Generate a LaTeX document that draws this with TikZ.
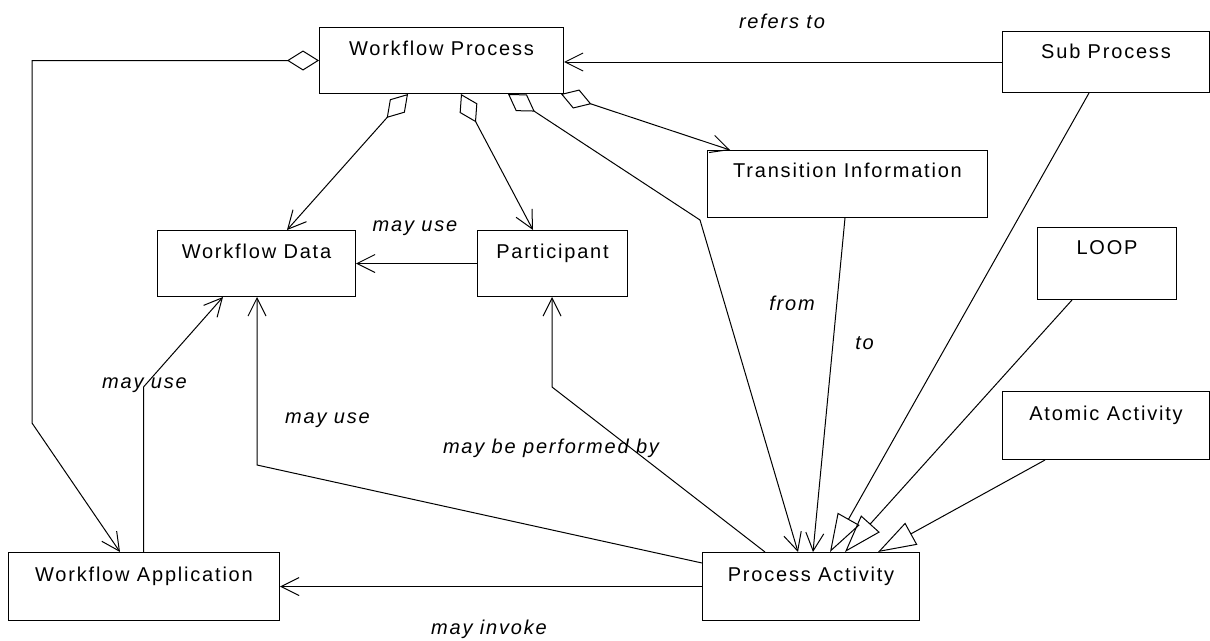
\documentclass[tikz,border=0pt]{standalone}
\usepackage{fontspec}
\setmainfont{Liberation Sans}[LetterSpace=9]
\usetikzlibrary{arrows.meta,calc}

\begin{document}
\begin{tikzpicture}[x=1pt,y=-1pt,
  every node/.style={font=\fontsize{20pt}{24pt}\selectfont},
  box/.style={draw, line width=1pt, inner xsep=0pt, inner ysep=0pt,
    anchor=north west, minimum height=0pt},
  lbl/.style={anchor=base, inner sep=0pt,
    font=\fontsize{20pt}{24pt}\selectfont\itshape},
  conn/.style={line width=1pt, line join=miter},
  uses/.style={conn, -{Straight Barb[length=18pt,width=18pt]}},
  owns/.style={conn, {Diamond[open,length=32pt,width=20pt]}-{Straight Barb[length=18pt,width=18pt]}},
  isa/.style={conn, -{Triangle[open,length=38pt,width=25pt]}}]

\fill[white] (0,0) rectangle (1210,640);
\useasboundingbox (0,0) rectangle (1210,640);

% classes
\node[box, minimum width=244pt, text height=28pt, text depth=38pt] (wp) at (319,27) {Workflow Process};
\node[box, minimum width=207pt, text height=26.5pt, text depth=34.5pt] (sp) at (1002,31) {Sub Process};
\node[box, minimum width=280pt, text height=27pt, text depth=40pt] (ti) at (707,150) {Transition Information};
\node[box, minimum width=198pt, text height=28pt, text depth=38pt] (wd) at (157,230) {Workflow Data};
\node[box, minimum width=150pt, text height=28pt, text depth=38pt] (pa) at (477,230) {Participant};
\node[box, minimum width=139pt, text height=27pt, text depth=45pt] (loop) at (1037,227) {LOOP};
\node[box, minimum width=207pt, text height=29pt, text depth=39pt] (aa) at (1002,391) {Atomic Activity};
\node[box, minimum width=271pt, text height=29pt, text depth=39pt] (wa) at (8,552) {Workflow Application};
\node[box, minimum width=217pt, text height=29pt, text depth=39pt] (pact) at (702,552) {Process Activity};

% bend points
\coordinate (bendL) at (32,423);
\coordinate (bendU) at (143.5,387);
\coordinate (bendD) at (257,465);
\coordinate (bendP) at (552,387);
\coordinate (bendA) at (700,220);

% aggregations from Workflow Process
\draw[owns] (wp.west) -| (bendL) -- ([xshift=112pt]wa.north west);
\draw[owns] ([xshift=89pt]wp.south west) -- ([xshift=130pt]wd.north west);
\draw[owns] ([xshift=142pt]wp.south west) -- ([xshift=56pt]pa.north west);
\draw[owns] ([xshift=189pt]wp.south west) -- (bendA) -- ([xshift=96pt]pact.north west);
\draw[owns] ([xshift=-3pt]wp.south east) -- ([xshift=23pt]ti.north west);

% associations
\draw[uses] (sp.west) -- (sp.west -| wp.east);
\draw[uses] (pa.west) -- (pa.west -| wd.east);
\draw[uses] (bendU |- wa.north) -- (bendU) -- ([xshift=66pt]wd.south west);
\draw[uses] ([yshift=-11pt]pact.north west) -- (bendD) -- (bendD |- wd.south);
\draw[uses] ([xshift=63pt]pact.north west) -- (bendP) -- (bendP |- pa.south);
\draw[uses] (pact.west) -- (pact.west -| wa.east);
\draw[uses] ([xshift=138pt]ti.south west) -- ([xshift=111pt]pact.north west);

% generalizations
\draw[isa] ([xshift=87pt]sp.south west) -- ([xshift=128pt]pact.north west);
\draw[isa] ([xshift=35pt]loop.south west) -- ([xshift=143pt]pact.north west);
\draw[isa] ([xshift=43pt]aa.south west) -- ([xshift=176pt]pact.north west);

% role labels
\node[lbl] (lRef) at (782,28) {refers to};
\node[lbl] (lUse1) at (415,231) {may use};
\node[lbl] (lUse2) at (144.5,388) {may use};
\node[lbl] (lUse3) at (327.5,423) {may use};
\node[lbl] (lPerf) at (551,453) {may be performed by};
\node[lbl] (lFrom) at (792,310) {from};
\node[lbl] (lTo) at (864.5,349) {to};
\node[lbl] (lInv) at (489,634) {may invoke};
\end{tikzpicture}
\end{document}
